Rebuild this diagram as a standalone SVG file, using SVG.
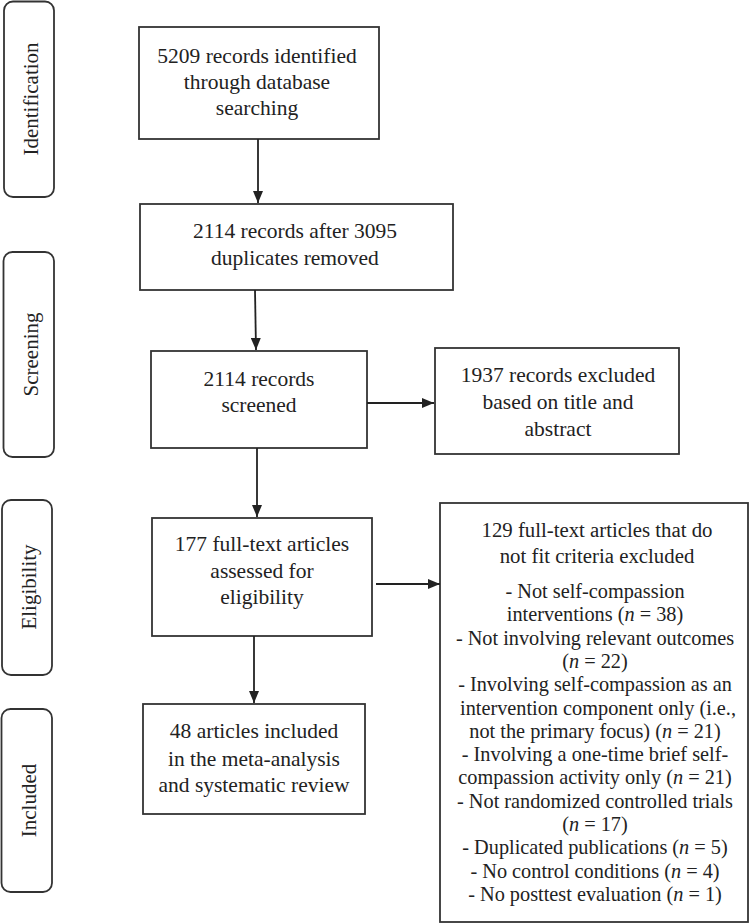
<svg xmlns="http://www.w3.org/2000/svg" width="751" height="924" viewBox="0 0 751 924">
<style>
text{font-family:'Liberation Serif','Times New Roman','DejaVu Serif',serif;fill:#222;text-anchor:middle}
.b{font-size:21.5px}
.s{font-size:21px}
.h{font-size:20.8px}
.l{font-size:20.3px}
.i{font-style:italic}
.box{fill:#fff;stroke:#333;stroke-width:1.8}
.pill{fill:#fff;stroke:#333;stroke-width:1.8}
.c{stroke:#222;stroke-width:1.8;fill:none}
</style>
<defs>
<marker id="ah" viewBox="0 0 12 10" refX="12" refY="5" markerWidth="12" markerHeight="10" markerUnits="userSpaceOnUse" orient="auto">
<path d="M0,0 L12,5 L0,10 Z" fill="#222"/>
</marker>
</defs>
<rect width="751" height="924" fill="#fff"/>
<g id="stage-identification">
<rect class="pill" x="4" y="1.5" width="50" height="195.5" rx="9"/>
<text class="s" font-family="Liberation Serif, serif" transform="translate(38,99) rotate(-90)">Identification</text>
</g>
<g id="stage-screening">
<rect class="pill" x="3.5" y="252" width="50.5" height="205" rx="9"/>
<text class="s" font-family="Liberation Serif, serif" transform="translate(37.5,354.5) rotate(-90)">Screening</text>
</g>
<g id="stage-eligibility">
<rect class="pill" x="2" y="500" width="50" height="175" rx="9"/>
<text class="s" font-family="Liberation Serif, serif" transform="translate(36,587) rotate(-90)">Eligibility</text>
</g>
<g id="stage-included">
<rect class="pill" x="1.5" y="709" width="50.5" height="183" rx="9"/>
<text class="s" font-family="Liberation Serif, serif" transform="translate(35.5,800.5) rotate(-90)">Included</text>
</g>
<g id="n1" font-family="Liberation Serif, serif">
<rect class="box" x="139" y="27" width="240" height="112"/>
<text class="b" x="257" y="63">5209 records identified</text>
<text class="b" x="257" y="89">through database</text>
<text class="b" x="257" y="115">searching</text>
</g>
<g id="n2">
<rect class="box" x="140" y="204" width="313" height="86"/>
<text class="b" x="295" y="238">2114 records after 3095</text>
<text class="b" x="295" y="265">duplicates removed</text>
</g>
<g id="n3">
<rect class="box" x="151" y="351" width="216" height="97"/>
<text class="b" x="259" y="386">2114 records</text>
<text class="b" x="259" y="412">screened</text>
</g>
<g id="n4">
<rect class="box" x="435" y="348" width="244" height="106"/>
<text class="b" x="558" y="382">1937 records excluded</text>
<text class="b" x="558" y="409">based on title and</text>
<text class="b" x="558" y="436">abstract</text>
</g>
<g id="n5">
<rect class="box" x="152" y="518" width="220" height="118"/>
<text class="b" x="262" y="551">177 full-text articles</text>
<text class="b" x="262" y="578">assessed for</text>
<text class="b" x="262" y="604">eligibility</text>
</g>
<g id="n6">
<rect class="box" x="440" y="503" width="308" height="419"/>
<text class="h" x="597" y="537">129 full-text articles that do</text>
<text class="h" x="597" y="563">not fit criteria excluded</text>
<text class="l" x="595" y="598">- Not self-compassion</text>
<text class="l" x="595" y="621.3">interventions (<tspan class="i">n</tspan> = 38)</text>
<text class="l" x="595" y="644.6">- Not involving relevant outcomes</text>
<text class="l" x="595" y="667.9">(<tspan class="i">n</tspan> = 22)</text>
<text class="l" x="595" y="691.2">- Involving self-compassion as an</text>
<text class="l" x="598" y="714.5">intervention component only (i.e.,</text>
<text class="l" x="595" y="737.8">not the primary focus) (<tspan class="i">n</tspan> = 21)</text>
<text class="l" x="595" y="761.1">- Involving a one-time brief self-</text>
<text class="l" x="595" y="784.4">compassion activity only (<tspan class="i">n</tspan> = 21)</text>
<text class="l" x="595" y="807.7">- Not randomized controlled trials</text>
<text class="l" x="595" y="831">(<tspan class="i">n</tspan> = 17)</text>
<text class="l" x="595" y="854.3">- Duplicated publications (<tspan class="i">n</tspan> = 5)</text>
<text class="l" x="595" y="877.6">- No control conditions (<tspan class="i">n</tspan> = 4)</text>
<text class="l" x="595" y="900.9">- No posttest evaluation (<tspan class="i">n</tspan> = 1)</text>
</g>
<g id="n7">
<rect class="box" x="143" y="704" width="222" height="110"/>
<text class="b" x="254" y="738">48 articles included</text>
<text class="b" x="254" y="766">in the meta-analysis</text>
<text class="b" x="254" y="792">and systematic review</text>
</g>
<g id="connectors">
<line class="c" x1="258" y1="139" x2="258" y2="203" marker-end="url(#ah)"/>
<line class="c" x1="255" y1="290" x2="256" y2="350" marker-end="url(#ah)"/>
<line class="c" x1="257" y1="448" x2="257" y2="517" marker-end="url(#ah)"/>
<line class="c" x1="254" y1="636" x2="254" y2="703" marker-end="url(#ah)"/>
<line class="c" x1="367" y1="403" x2="434" y2="403" marker-end="url(#ah)"/>
<line class="c" x1="376" y1="584" x2="440" y2="584" marker-end="url(#ah)"/>
</g>
</svg>
